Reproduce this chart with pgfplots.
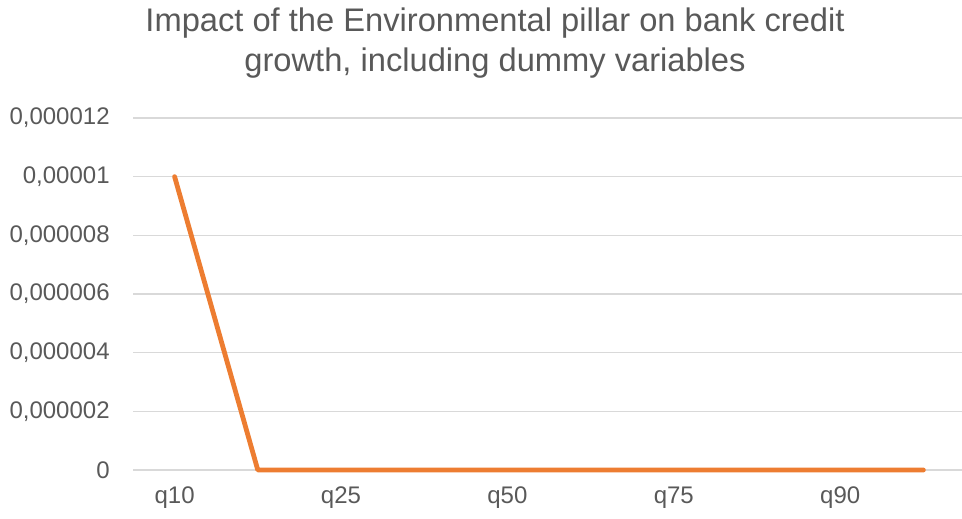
\documentclass[border=0pt]{standalone}
\usepackage{pgfplots}
\pgfplotsset{compat=1.18}
\usepackage{fontspec}
\setmainfont{Liberation Sans}
\definecolor{txt}{HTML}{595959}
\definecolor{gridc}{HTML}{D9D9D9}
\definecolor{orng}{HTML}{ED7D31}
\begin{document}
\begin{tikzpicture}[x=0.75pt,y=0.75pt]
\path[use as bounding box] (0,0) rectangle (962,518);
\node[text=txt,font=\fontsize{24.5}{28}\selectfont] at (495,495) {Impact of the Environmental pillar on bank credit};
\node[text=txt,font=\fontsize{24.5}{28}\selectfont] at (495,455) {growth, including dummy variables};
\begin{axis}[
  at={(133pt*0.75,48pt*0.75)}, anchor=south west,
  scale only axis, width=624pt, height=264pt,
  xmin=-0.5, xmax=9.5, ymin=0, ymax=0.000012,
  axis line style={draw=none},
  ytick={0,0.000002,0.000004,0.000006,0.000008,0.00001,0.000012},
  xtick={0,2,4,6,8}, xticklabels={q10,q25,q50,q75,q90},
  major tick length=0pt,
  ymajorgrids, grid style={gridc, line width=1.1pt},
  scaled y ticks=false,
  yticklabel={\pgfmathprintnumber[fixed,precision=6,use comma,1000 sep={}]{\tick}},
  /pgf/number format/assume math mode=true,
  tick label style={text=txt,font=\fontsize{18}{21}\selectfont},
  yticklabel style={xshift=-14pt},
  xticklabel style={yshift=-9pt},
  clip=false,
]
\addplot[orng, line width=3.6pt, line join=round, line cap=round] coordinates {
 (0,0.00001) (1,0) (2,0) (3,0) (4,0) (5,0) (6,0) (7,0) (8,0) (9,0)};
\end{axis}
\end{tikzpicture}
\end{document}
